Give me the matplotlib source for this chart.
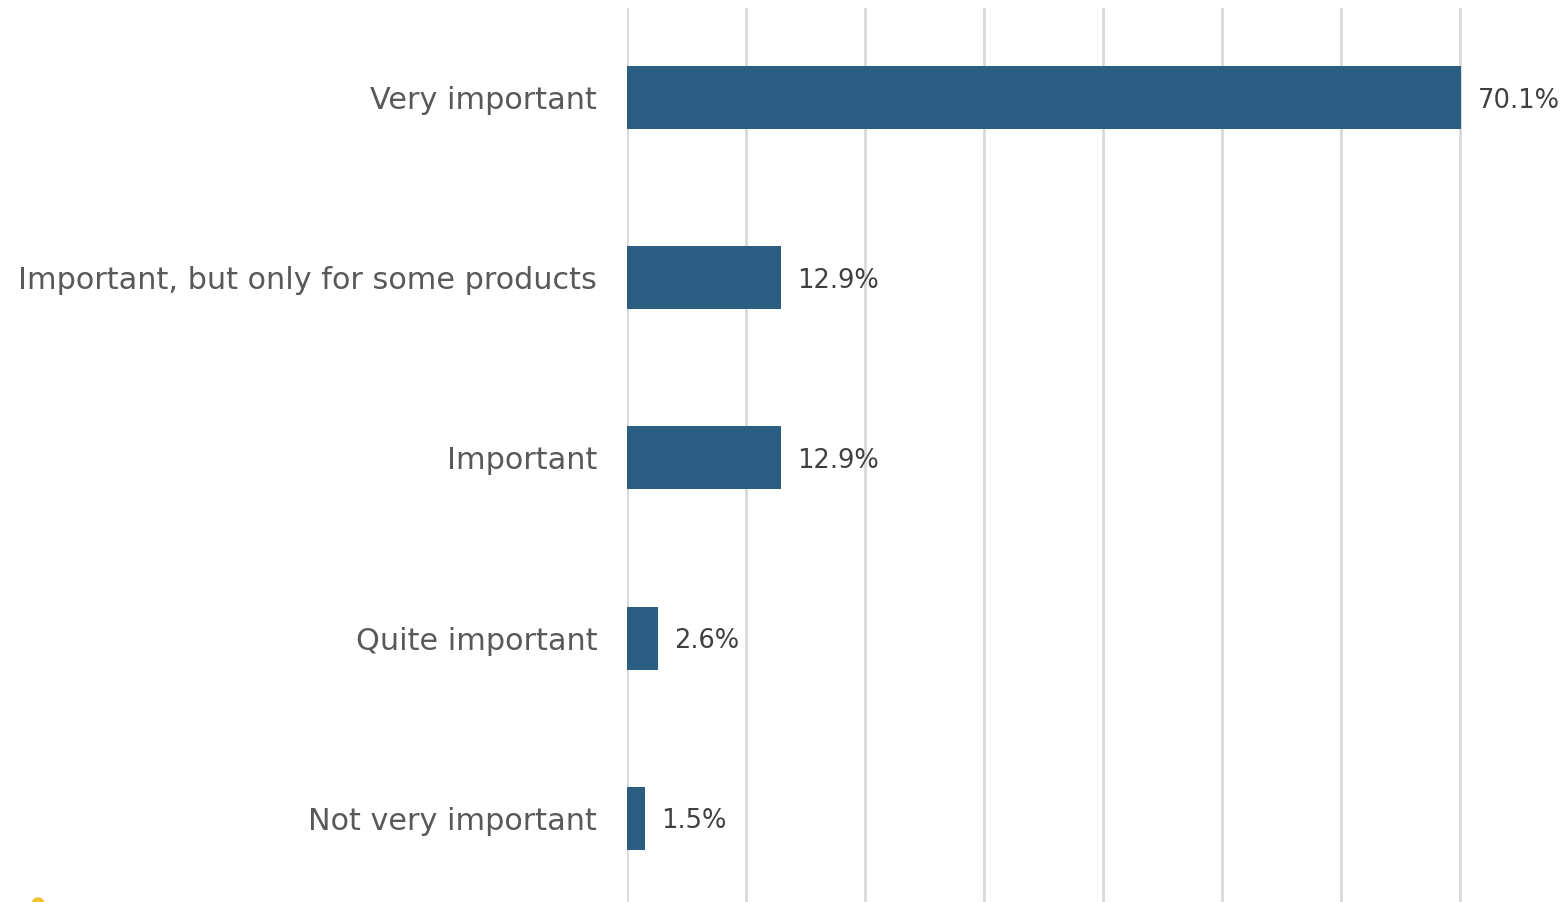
import matplotlib.pyplot as plt
from matplotlib.patches import Ellipse

categories = ['Very important', 'Important, but only for some products',
              'Important', 'Quite important', 'Not very important']
values = [70.1, 12.9, 12.9, 2.6, 1.5]

plt.rcParams['font.family'] = ['DejaVu Sans']

fig = plt.figure(figsize=(15.63, 9.02), dpi=100)
# axes runs past right/bottom edge like the cropped original
ax = fig.add_axes([627 / 1563, -6 / 902, (1579 - 627) / 1563, 900 / 902])

y = list(range(len(categories)))
ax.barh(y, values, height=0.35, color='#2C5D82', zorder=3)

for yi, v in zip(y, values):
    ax.text(v + 1.4, yi + 0.015, f'{v:.1f}%', va='center', ha='left',
            fontsize=18.5, color='#404040')

ax.set_xlim(0, 80)
ax.set_ylim(len(categories) - 0.5, -0.5)
ax.set_xticks(range(0, 81, 10))
ax.set_yticks(y)
ax.set_yticklabels(categories, fontsize=21.8, color='#595959')
ax.tick_params(axis='y', length=0, pad=21.5)
ax.tick_params(axis='x', length=0, labelbottom=False)
ax.grid(axis='x', color='#D9D9D9', linewidth=2, zorder=0)
for s in ax.spines.values():
    s.set_visible(False)

# small yellow mark cut off at bottom-left
fig.patches.append(Ellipse((38 / 1563, -2 / 902), 12 / 1563, 12 / 902,
                           transform=fig.transFigure, color='#F2C12E'))

fig.savefig('out.png', dpi=100)
